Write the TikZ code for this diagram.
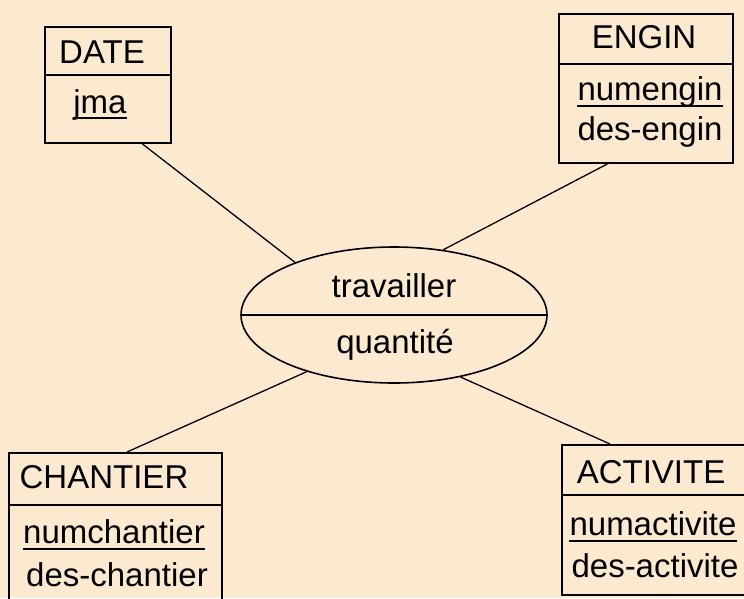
\documentclass[tikz,border=0pt]{standalone}
\usepackage{fontspec}
\setmainfont{Liberation Sans}
\usetikzlibrary{shapes.geometric,calc}
\definecolor{bg}{RGB}{252,234,208}
\begin{document}
\begin{tikzpicture}[x=1pt,y=-1pt,
  entity/.style={draw, line width=1.6pt, anchor=north west, inner sep=0pt},
  relbox/.style={draw, ellipse, line width=1.6pt, inner sep=0pt, minimum width=306pt, minimum height=136pt},
  divl/.style={line width=1.6pt},
  link/.style={line width=1.3pt},
  ul/.style={line width=1.4pt},
  txt/.style={inner sep=0pt, anchor=base, font=\fontsize{33}{33}\selectfont}]
\fill[bg] (0,0) rectangle (744,598);
\useasboundingbox (0,0) rectangle (744,598);

% DATE
\node[entity, minimum width=126pt, minimum height=116pt] (date) at (44,26) {};
\draw[divl] ([yshift=-49pt]date.north west) -- ([yshift=-49pt]date.north east);
\node[txt] (tdate) at (102,63) {DATE};
\node[txt] (tjma) at (100,113) {jma};
\draw[ul] ([yshift=-5pt]tjma.base west) -- ([yshift=-5pt]tjma.base east);

% ENGIN
\node[entity, minimum width=174pt, minimum height=149pt] (engin) at (558,13) {};
\draw[divl] ([yshift=-51pt]engin.north west) -- ([yshift=-51pt]engin.north east);
\node[txt] (tengin) at (644,48) {ENGIN};
\node[txt] (tnumengin) at (650,100) {numengin};
\draw[ul] ([yshift=-6pt]tnumengin.base west) -- ([yshift=-6pt]tnumengin.base east);
\node[txt] (tdesengin) at (650,140) {des-engin};

% CHANTIER
\node[entity, minimum width=213pt, minimum height=200pt] (chantier) at (8,452) {};
\draw[divl] ([yshift=-53pt]chantier.north west) -- ([yshift=-53pt]chantier.north east);
\node[txt] (tchantier) at (104,488) {CHANTIER};
\node[txt] (tnumchantier) at (114,543) {numchantier};
\draw[ul] ([yshift=-6pt]tnumchantier.base west) -- ([yshift=-6pt]tnumchantier.base east);
\node[txt] (tdeschantier) at (117,586) {des-chantier};

% ACTIVITE
\node[entity, minimum width=200pt, minimum height=150pt] (activite) at (561,444) {};
\draw[divl] ([yshift=-51pt]activite.north west) -- ([yshift=-51pt]activite.north east);
\node[txt] (tactivite) at (651,483) {ACTIVITE};
\node[txt] (tnumactivite) at (653,535) {numactivite};
\draw[ul] ([yshift=-6pt]tnumactivite.base west) -- ([yshift=-6pt]tnumactivite.base east);
\node[txt] (tdesactivite) at (655,577) {des-activite};

% relation
\node[relbox] (rel) at (394,315) {};
\draw[divl] (rel.west) -- (rel.east);
\node[txt] (ttrav) at (394,297) {travailler};
\node[txt] (tquant) at (395,353) {quantité};

% links
\draw[link] ([xshift=98pt]date.south west) -- (rel.152);
\draw[link] ([xshift=50pt]engin.south west) -- (rel.53);
\draw[link] ([xshift=119pt]chantier.north west) -- (rel.213);
\draw[link] ([xshift=49pt]activite.north west) -- (rel.-43);
\end{tikzpicture}
\end{document}
